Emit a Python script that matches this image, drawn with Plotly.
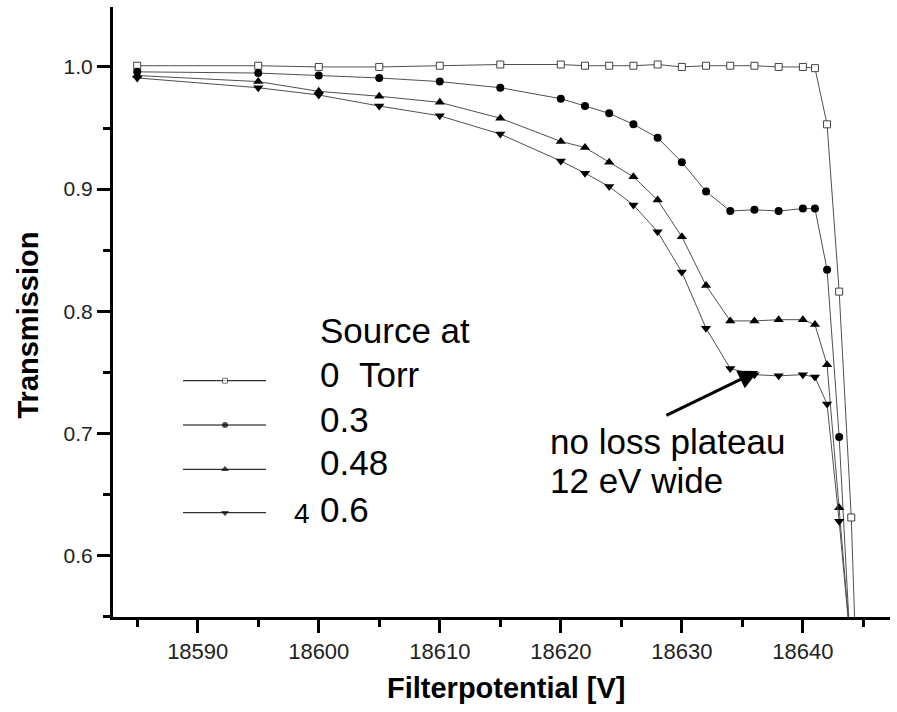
import plotly.graph_objects as go

# ---------------- data ----------------
potential = [18585, 18595, 18600, 18605, 18610, 18615, 18620, 18622, 18624, 18626,
             18628, 18630, 18632, 18634, 18636, 18638, 18640, 18641, 18642, 18643,
             18644, 18645]
t_0torr = [1.001, 1.001, 1.000, 1.000, 1.001, 1.002, 1.002, 1.001, 1.001, 1.001,
           1.002, 1.000, 1.001, 1.001, 1.001, 1.000, 1.000, 0.999, 0.953, 0.816,
           0.631, 0.33]
t_03 = [0.996, 0.995, 0.993, 0.991, 0.988, 0.983, 0.974, 0.968, 0.962, 0.953,
        0.942, 0.922, 0.898, 0.882, 0.883, 0.882, 0.884, 0.884, 0.834, 0.697,
        0.51]
t_048 = [0.993, 0.988, 0.980, 0.976, 0.971, 0.958, 0.939, 0.934, 0.922, 0.910,
         0.891, 0.861, 0.821, 0.792, 0.792, 0.793, 0.793, 0.789, 0.756, 0.639,
         0.52]
t_06 = [0.991, 0.983, 0.977, 0.968, 0.960, 0.945, 0.923, 0.913, 0.902, 0.887,
        0.865, 0.832, 0.786, 0.753, 0.748, 0.747, 0.748, 0.746, 0.724, 0.628,
        0.52]
legend_labels = ["0\u00a0\u00a0Torr", "0.3", "0.48", "0.6"]

W, H = 897, 712
ML, MR, MT, MB = 113, 7, 7, 95
PW, PH = W - ML - MR, H - MT - MB

def px(x):
    return (x - ML) / PW

def py(y):
    return (H - MB - y) / PH

FONT = "Liberation Sans, Arial, sans-serif"
LINE_COL = "#505050"

series = [
    (t_0torr, dict(symbol="square", size=7, color="white", line=dict(color="#404040", width=1))),
    (t_03, dict(symbol="circle", size=8, color="black", line=dict(width=0))),
    (t_048, dict(symbol="triangle-up", size=9, color="black", line=dict(width=0))),
    (t_06, dict(symbol="triangle-down", size=9, color="black", line=dict(width=0))),
]

fig = go.Figure()
for vals, mk in series:
    fig.add_trace(go.Scatter(
        x=potential[:len(vals)], y=vals, mode="lines+markers",
        line=dict(color=LINE_COL, width=1), marker=mk, showlegend=False,
    ))

# hand-drawn style legend samples (overlay axis in plot-fraction coordinates)
leg_rows = [380.7, 425, 469.3, 512.7]
leg_sizes = [5, 6, 7, 7]
for (vals, mk), yrow, s in zip(series, leg_rows, leg_sizes):
    m = dict(mk)
    m["size"] = [0, s, 0]
    fig.add_trace(go.Scatter(
        x=[px(183), px(225), px(266)], y=[py(yrow)] * 3, mode="lines+markers",
        line=dict(color="black", width=1), marker=m, showlegend=False,
        xaxis="x2", yaxis="y2",
    ))

annos = []
def txt(text, x, y, size=35, bold=False, anchor="left"):
    annos.append(dict(text=f"<b>{text}</b>" if bold else text, x=px(x), y=py(y),
                      xref="paper", yref="paper", xanchor=anchor, yanchor="middle",
                      showarrow=False, font=dict(family=FONT, size=size, color="black")))

txt("Source at", 318, 330)
for lab, yc in zip(legend_labels, [374.2, 419.2, 462.5, 509.2]):
    txt(lab, 318, yc)
txt("4", 292, 513, size=28)
txt("no loss plateau", 548, 441.5)
txt("12 eV wide", 548, 480.8)

# axis titles
annos.append(dict(text="<b>Filterpotential [V]</b>", x=px(506), y=py(688), xref="paper",
                  yref="paper", xanchor="center", yanchor="middle", showarrow=False,
                  font=dict(family=FONT, size=29, color="black")))
annos.append(dict(text="<b>Transmission</b>", x=px(27.5), y=py(325), xref="paper",
                  yref="paper", xanchor="center", yanchor="middle", showarrow=False,
                  textangle=-90, font=dict(family=FONT, size=29, color="black")))

# arrow
annos.append(dict(x=18636.3, y=0.751, ax=18628.6, ay=0.714, xref="x", yref="y",
                  axref="x", ayref="y", showarrow=True, arrowhead=2, arrowsize=1.3,
                  arrowwidth=3, arrowcolor="black", text=""))

fig.update_layout(
    width=W, height=H, margin=dict(l=ML, r=MR, t=MT, b=MB),
    paper_bgcolor="white", plot_bgcolor="white",
    annotations=annos, showlegend=False,
    xaxis=dict(range=[18583.0, 18647.2], showgrid=False, zeroline=False,
               showline=True, linewidth=3, linecolor="black",
               ticks="outside", ticklen=13, tickwidth=3, tickcolor="black",
               tick0=18590, dtick=10, tickformat="d", separatethousands=False,
               minor=dict(tick0=18585, dtick=5, ticks="outside", ticklen=7,
                          tickwidth=3, tickcolor="black"),
               tickfont=dict(family=FONT, size=22, color="#222")),
    yaxis=dict(range=[0.5495, 1.0491], showgrid=False, zeroline=False,
               showline=True, linewidth=3, linecolor="black",
               ticks="outside", ticklen=13, tickwidth=3, tickcolor="black",
               tick0=0.6, dtick=0.1, tickformat=".1f",
               minor=dict(tick0=0.55, dtick=0.05, ticks="outside", ticklen=7,
                          tickwidth=3, tickcolor="black"),
               tickfont=dict(family=FONT, size=21, color="#222")),
    xaxis2=dict(range=[0, 1], overlaying="x", visible=False),
    yaxis2=dict(range=[0, 1], overlaying="y", visible=False),
)

fig.write_html("out.html")
